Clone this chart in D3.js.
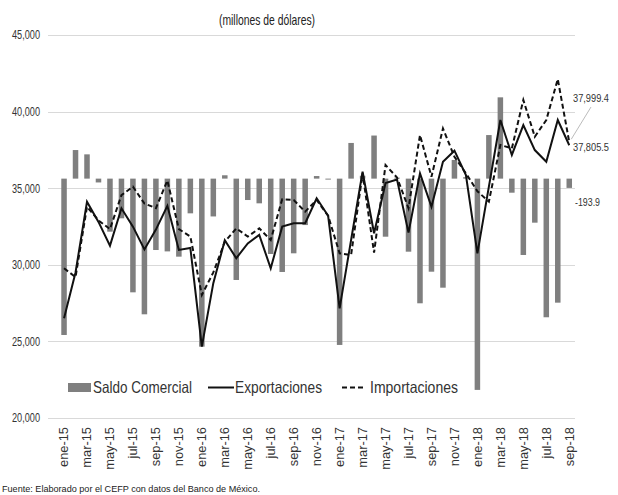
<!DOCTYPE html>
<html>
<head>
<meta charset="utf-8">
<script src="https://cdn.jsdelivr.net/npm/d3@7"></script>
<style>
  html, body { margin: 0; padding: 0; background: #fff; }
  svg { display: block; }
  text { font-family: "Liberation Sans", Arial, sans-serif; }
</style>
</head>
<body>
<svg id="chart" width="618" height="495"></svg>
<script>
const months = [
  "ene-15","feb-15","mar-15","abr-15","may-15","jun-15","jul-15","ago-15","sep-15","oct-15","nov-15","dic-15",
  "ene-16","feb-16","mar-16","abr-16","may-16","jun-16","jul-16","ago-16","sep-16","oct-16","nov-16","dic-16",
  "ene-17","feb-17","mar-17","abr-17","may-17","jun-17","jul-17","ago-17","sep-17","oct-17","nov-17","dic-17",
  "ene-18","feb-18","mar-18","abr-18","may-18","jun-18","jul-18","ago-18","sep-18"
];
const tickLabels = [
  "ene-15","mar-15","may-15","jul-15","sep-15","nov-15",
  "ene-16","mar-16","may-16","jul-16","sep-16","nov-16",
  "ene-17","mar-17","may-17","jul-17","sep-17","nov-17",
  "ene-18","mar-18","may-18","jul-18","sep-18"
];
const exportaciones = [
  26510, 29500, 34120, 32800, 31250, 33690, 32490, 31000, 32300, 33850, 30970, 31100,
  24660, 28800, 31600, 30430, 31400, 31950, 29770, 32490, 32710, 32710, 34340, 33200,
  27160, 31620, 36080, 32060, 35330, 35560, 32100, 35970, 33790, 36730, 37450, 35860,
  30750, 35100, 39450, 37170, 39120, 37490, 36730, 39450, 37805.5
];
const importaciones = [
  29770, 29200, 33790, 32900, 32330, 34550, 35100, 34000, 33700, 35500, 32330, 31850,
  28030, 29500, 31500, 32380, 31840, 32380, 31620, 34280, 34230, 33470, 34230, 33200,
  30750, 30640, 35970, 30790, 36510, 35700, 33700, 38470, 35750, 38900, 37050, 35970,
  34800, 34120, 37820, 37600, 40760, 38360, 39450, 42120, 37999.4
];
const saldo = [
  -3266, 597, 507, -80, -1108, -829, -2375, -2834, -1491, -1520, -1630, -725,
  -3510, -790, 70, -2117, -447, -516, -1574, -1950, -1560, -970, 54, -20,
  -3474, 745, 60, 900, -1213, 20, -1526, -2604, -1944, -2278, 390, 30,
  -4413, 910, 1698, -294, -1595, -920, -2896, -2591, -193.9
];
const leftTicks = [20000, 25000, 30000, 35000, 40000, 45000];
const legendItems = ["Saldo Comercial", "Exportaciones", "Importaciones"];
const endLabels = { exp: "37,805.5", imp: "37,999.4", bal: "-193.9" };
const titleText = "(millones de dólares)";
const sourceText = "Fuente: Elaborado por el CEFP con datos del Banco de México.";

const svg = d3.select("#chart");
svg.append("rect").attr("width", 618).attr("height", 495).attr("fill", "#fff");

function squeeze(sel, refWidthFn) {
  sel.each(function () {
    const w = this.getComputedTextLength();
    const t = refWidthFn(this, w);
    this.setAttribute("textLength", t);
    this.setAttribute("lengthAdjust", "spacingAndGlyphs");
  });
}
function fitTo(sel, target) { squeeze(sel, () => target); }
function scaleBy(sel, k) { squeeze(sel, (el, w) => w * k); }

const x = d3.scaleBand().domain(months).range([58.3, 575]).paddingInner(0.52).paddingOuter(0.26);
const cx = m => x(m) + x.bandwidth() / 2;
const y = d3.scaleLinear().domain([20000, 45000]).range([418, 35]);
const yR = d3.scaleLinear().domain([-5000, 3000]).range([418, 35]);
const fmt = d3.format(",");

// title
fitTo(svg.append("text").attr("x", 267).attr("y", 25).attr("text-anchor", "middle")
  .attr("font-size", 15).attr("fill", "#222").text(titleText), 96);

// gridlines
svg.append("g").selectAll("line").data(leftTicks).join("line")
  .attr("x1", 48).attr("x2", 575)
  .attr("y1", d => Math.round(y(d)) + 0.5).attr("y2", d => Math.round(y(d)) + 0.5)
  .attr("stroke", "#d9d9d9").attr("stroke-width", 1);

// left axis labels
const yAxis = d3.axisLeft(y).tickValues(leftTicks).tickFormat(fmt).tickSize(0).tickPadding(0);
const gy = svg.append("g").attr("transform", "translate(40,0)").call(yAxis);
gy.select(".domain").remove();
gy.selectAll("text").attr("font-size", 12).attr("fill", "#333")
  .style("font-family", '"Liberation Sans", Arial, sans-serif');
{
  const ref = gy.select("text").node().getComputedTextLength();
  scaleBy(gy.selectAll("text"), 28 / ref);
}

// bars
svg.append("g").selectAll("rect").data(months).join("rect")
  .attr("x", (m) => x(m))
  .attr("width", x.bandwidth())
  .attr("y", (m, i) => yR(Math.max(0, saldo[i])))
  .attr("height", (m, i) => Math.abs(yR(saldo[i]) - yR(0)))
  .attr("fill", "#7f7f7f");

// lines
const line = d3.line().x((d, i) => cx(months[i])).y(d => y(d));
svg.append("path").datum(importaciones).attr("d", line)
  .attr("fill", "none").attr("stroke", "#111").attr("stroke-width", 2)
  .attr("stroke-dasharray", "5,3");
svg.append("path").datum(exportaciones).attr("d", line)
  .attr("fill", "none").attr("stroke", "#111").attr("stroke-width", 2);

// x axis labels
const xAxis = d3.axisBottom(x).tickValues(tickLabels).tickSize(0).tickPadding(0);
const gx = svg.append("g").attr("transform", "translate(0,427)").call(xAxis);
gx.select(".domain").remove();
gx.selectAll("text")
  .attr("transform", "rotate(-90)")
  .attr("x", 0).attr("y", 0).attr("dy", "0.35em")
  .attr("text-anchor", "end")
  .attr("font-size", 12.5).attr("fill", "#333")
  .style("font-family", '"Liberation Sans", Arial, sans-serif');
{
  const ref = gx.select("text").node().getComputedTextLength();
  scaleBy(gx.selectAll("text"), 40 / ref);
}

// legend
const lg = svg.append("g");
lg.append("rect").attr("x", 68).attr("y", 383).attr("width", 23).attr("height", 9).attr("fill", "#7f7f7f");
fitTo(lg.append("text").attr("x", 93).attr("y", 393).attr("font-size", 16.5).attr("fill", "#333").text(legendItems[0]), 99);
lg.append("line").attr("x1", 208).attr("x2", 234).attr("y1", 387.5).attr("y2", 387.5)
  .attr("stroke", "#111").attr("stroke-width", 2);
fitTo(lg.append("text").attr("x", 235).attr("y", 393).attr("font-size", 16.5).attr("fill", "#333").text(legendItems[1]), 87);
lg.append("line").attr("x1", 342).attr("x2", 366).attr("y1", 387.5).attr("y2", 387.5)
  .attr("stroke", "#111").attr("stroke-width", 2).attr("stroke-dasharray", "5,3");
fitTo(lg.append("text").attr("x", 370).attr("y", 393).attr("font-size", 16.5).attr("fill", "#333").text(legendItems[2]), 88);

// end labels
const last = months.length - 1;
svg.append("line")
  .attr("x1", cx(months[last]) + 2).attr("y1", y(importaciones[last]) - 3)
  .attr("x2", 591).attr("y2", 107)
  .attr("stroke", "#aaa").attr("stroke-width", 0.8);
fitTo(svg.append("text").attr("x", 573).attr("y", 102).attr("font-size", 10.5).attr("fill", "#333").text(endLabels.imp), 36);
fitTo(svg.append("text").attr("x", 573).attr("y", 151).attr("font-size", 10.5).attr("fill", "#333").text(endLabels.exp), 36);
fitTo(svg.append("text").attr("x", 575).attr("y", 206).attr("font-size", 10.5).attr("fill", "#333").text(endLabels.bal), 25);

// source
fitTo(svg.append("text").attr("x", 2).attr("y", 492).attr("font-size", 9.5).attr("fill", "#222").text(sourceText), 258);
</script>
</body>
</html>
